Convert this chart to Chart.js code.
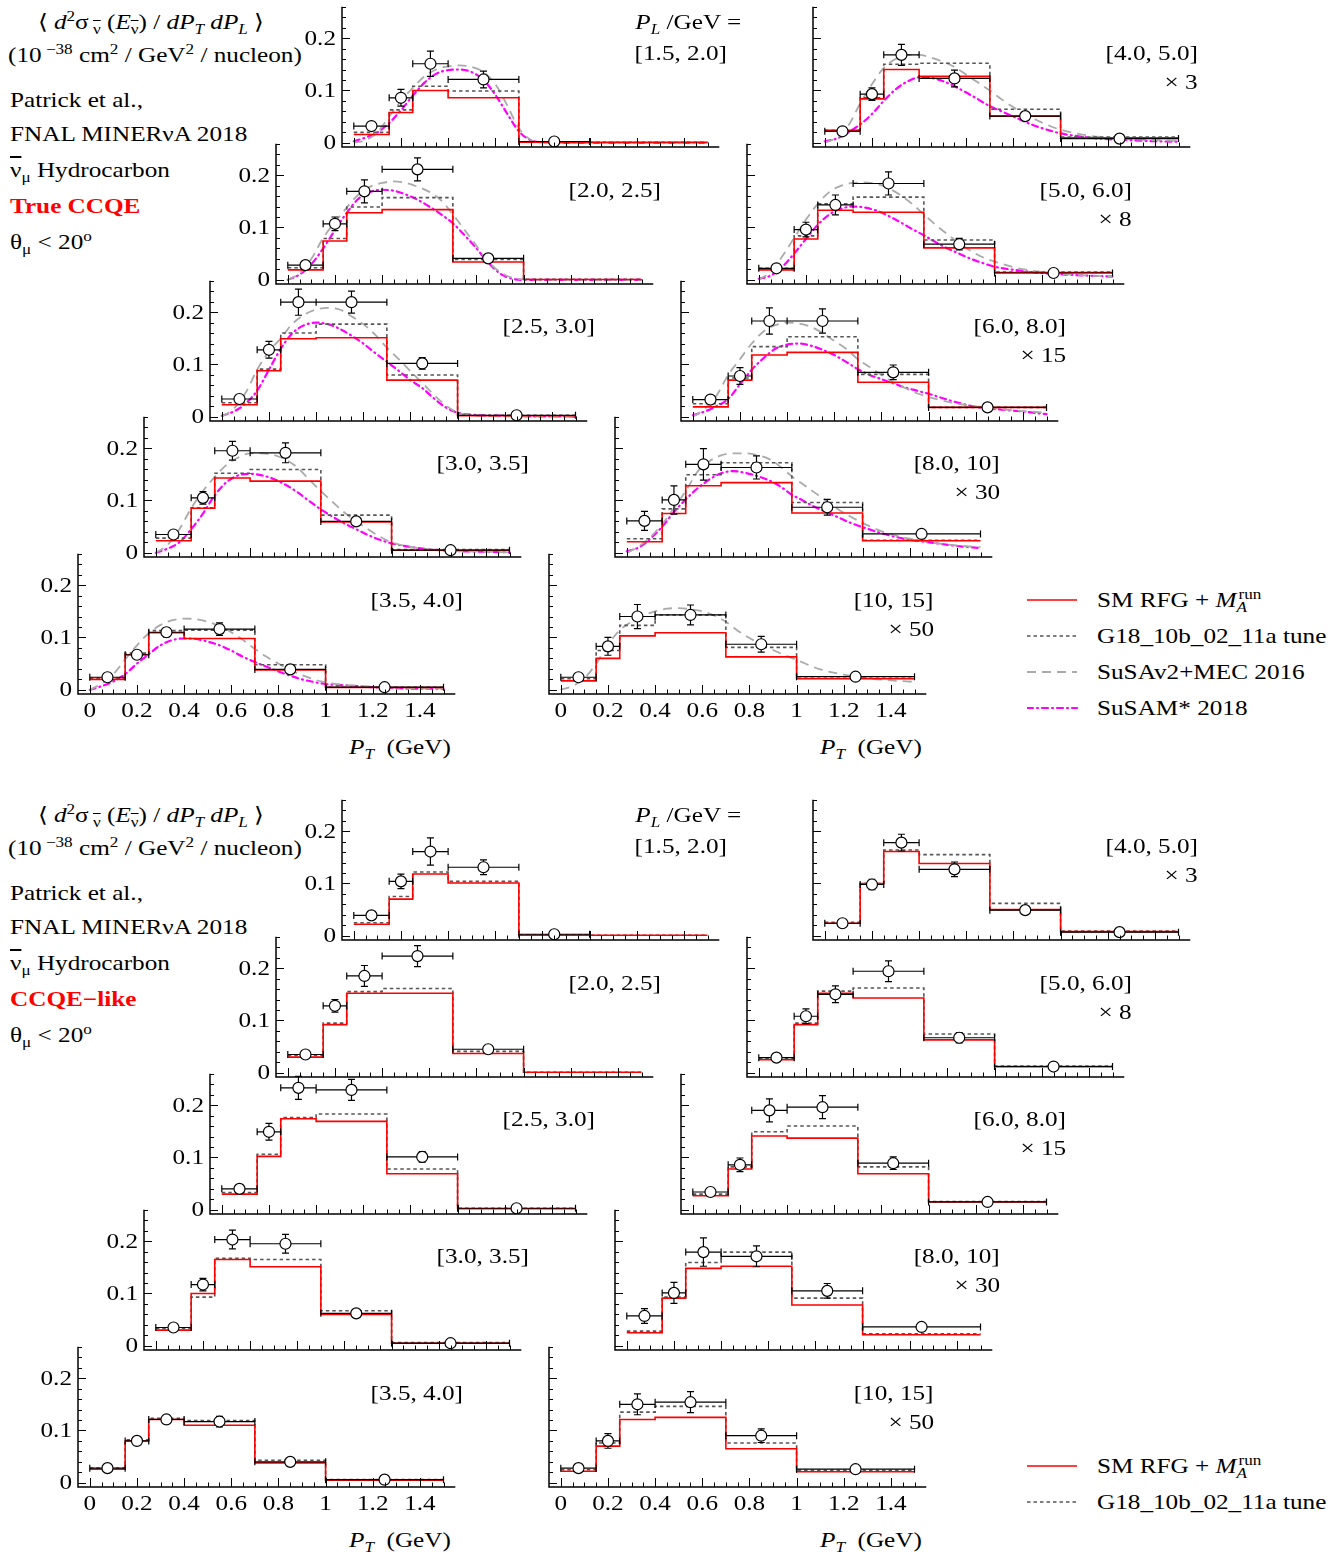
<!DOCTYPE html>
<html>
<head>
<meta charset="utf-8">
<script src="https://cdn.jsdelivr.net/npm/chart.js@4.4.1/dist/chart.umd.min.js"></script>
<style>
body{margin:0;background:#fff;width:1344px;height:1560px;position:relative;overflow:hidden;font-family:"Liberation Serif","Times New Roman",serif;}
canvas{position:absolute;}
.t{position:absolute;font-size:21px;line-height:22px;white-space:nowrap;color:#000;transform:scaleX(1.2);transform-origin:left center;}
.t.r{transform-origin:right center;text-align:right;}
sub,sup{font-size:68%;line-height:0;}
.ov{text-decoration:overline;}
svg{position:absolute;}
</style>
</head>
<body>
<script>
// P_T bins (GeV)
const binEdges = [0, 0.15, 0.25, 0.4, 0.7, 1.0, 1.5];
const binCenters = [0.075, 0.2, 0.325, 0.55, 0.85, 1.25];
const plLabels = ['[1.5, 2.0]', '[2.0, 2.5]', '[2.5, 3.0]', '[3.0, 3.5]', '[3.5, 4.0]',
                  '[4.0, 5.0]', '[5.0, 6.0]', '[6.0, 8.0]', '[8.0, 10]', '[10, 15]'];
const scaleLabels = ['', '', '', '', '', '\u00d7 3', '\u00d7 8', '\u00d7 15', '\u00d7 30', '\u00d7 50'];
const xTickValues = [0, 0.2, 0.4, 0.6, 0.8, 1, 1.2, 1.4];
const xTickLabels = ['0', '0.2', '0.4', '0.6', '0.8', '1', '1.2', '1.4'];
const yTickValues = [0, 0.1, 0.2];
const yTickLabels = ['0', '0.1', '0.2'];

// ---- True CCQE ----
const dataTrue = [
  [0.032, 0.086, 0.151, 0.121, 0.0025, null],
  [0.028, 0.107, 0.169, 0.211, 0.041, null],
  [0.034, 0.128, 0.219, 0.219, 0.102, 0.003],
  [0.035, 0.105, 0.195, 0.191, 0.060, 0.005],
  [0.024, 0.067, 0.110, 0.116, 0.039, 0.005],
  [0.022, 0.093, 0.168, 0.123, 0.051, 0.008],
  [0.022, 0.096, 0.143, 0.184, 0.068, 0.013],
  [0.033, 0.078, 0.183, 0.183, 0.085, 0.018],
  [0.061, 0.101, 0.169, 0.163, 0.087, 0.036],
  [0.024, 0.083, 0.140, 0.143, 0.087, 0.025]
];
const errTrue = [
  [0.004, 0.016, 0.024, 0.016, 0.002, null],
  [0.004, 0.013, 0.022, 0.022, 0.005, null],
  [0.005, 0.016, 0.025, 0.021, 0.011, 0.002],
  [0.005, 0.012, 0.018, 0.019, 0.006, 0.002],
  [0.004, 0.007, 0.009, 0.012, 0.005, 0.002],
  [0.004, 0.012, 0.020, 0.016, 0.006, 0.002],
  [0.004, 0.014, 0.019, 0.022, 0.011, 0.003],
  [0.006, 0.016, 0.025, 0.023, 0.014, 0.004],
  [0.018, 0.027, 0.030, 0.022, 0.015, 0.007],
  [0.005, 0.017, 0.023, 0.019, 0.015, 0.005]
];
const rfgTrue = [
  [0.016, 0.058, 0.100, 0.086, 0.001, 0.001],
  [0.019, 0.074, 0.128, 0.134, 0.034, 0.0005],
  [0.023, 0.088, 0.149, 0.151, 0.070, 0.002],
  [0.023, 0.085, 0.143, 0.137, 0.059, 0.005],
  [0.020, 0.067, 0.109, 0.098, 0.038, 0.0045],
  [0.024, 0.084, 0.140, 0.127, 0.051, 0.0095],
  [0.019, 0.078, 0.133, 0.129, 0.061, 0.014],
  [0.019, 0.070, 0.118, 0.123, 0.066, 0.018],
  [0.021, 0.075, 0.128, 0.134, 0.076, 0.023],
  [0.017, 0.060, 0.103, 0.109, 0.063, 0.021]
];
const g18True = [
  [0.020, 0.063, 0.108, 0.099, 0.002, 0.001],
  [0.023, 0.079, 0.139, 0.157, 0.039, 0.001],
  [0.027, 0.091, 0.160, 0.177, 0.080, 0.003],
  [0.028, 0.086, 0.152, 0.159, 0.072, 0.006],
  [0.022, 0.070, 0.113, 0.114, 0.048, 0.005],
  [0.024, 0.086, 0.150, 0.152, 0.064, 0.011],
  [0.022, 0.084, 0.145, 0.158, 0.076, 0.015],
  [0.025, 0.074, 0.134, 0.153, 0.081, 0.018],
  [0.027, 0.084, 0.149, 0.172, 0.096, 0.024],
  [0.021, 0.075, 0.123, 0.143, 0.081, 0.022]
];

// smooth model curves, sampled at curveX
const curveX = [0, 0.05, 0.1, 0.15, 0.2, 0.25, 0.3, 0.35, 0.4, 0.45, 0.5, 0.55, 0.6,
                0.65, 0.7, 0.75, 0.8, 0.85, 0.9, 0.95, 1.0, 1.1, 1.2, 1.3, 1.4, 1.5];
const susaTrue = [
  [0, 0.005, 0.02, 0.05, 0.08, 0.105, 0.127, 0.14, 0.146, 0.148, 0.145, 0.135, 0.112, 0.072, 0.028, 0.006, 0.001, 0, 0, 0, 0, 0, 0, 0, 0, 0],
  [0, 0.012, 0.04, 0.08, 0.11, 0.138, 0.163, 0.178, 0.185, 0.188, 0.185, 0.178, 0.168, 0.152, 0.125, 0.095, 0.065, 0.035, 0.015, 0.004, 0.001, 0, 0, 0, 0, 0],
  [0, 0.015, 0.045, 0.09, 0.125, 0.15, 0.178, 0.195, 0.205, 0.208, 0.205, 0.192, 0.177, 0.157, 0.132, 0.11, 0.087, 0.065, 0.042, 0.022, 0.008, 0.002, 0.001, 0.001, 0, 0],
  [0, 0.015, 0.045, 0.085, 0.118, 0.145, 0.168, 0.182, 0.19, 0.19, 0.187, 0.178, 0.163, 0.14, 0.118, 0.097, 0.077, 0.06, 0.045, 0.031, 0.02, 0.01, 0.005, 0.003, 0.002, 0.001],
  [0, 0.012, 0.03, 0.058, 0.085, 0.108, 0.124, 0.133, 0.136, 0.135, 0.13, 0.122, 0.11, 0.095, 0.078, 0.063, 0.05, 0.038, 0.028, 0.02, 0.014, 0.009, 0.006, 0.004, 0.003, 0.003],
  [0, 0.01, 0.033, 0.075, 0.112, 0.143, 0.16, 0.168, 0.168, 0.163, 0.155, 0.145, 0.13, 0.115, 0.1, 0.083, 0.068, 0.055, 0.043, 0.033, 0.025, 0.015, 0.01, 0.007, 0.005, 0.004],
  [0, 0.015, 0.045, 0.08, 0.115, 0.145, 0.168, 0.18, 0.185, 0.186, 0.183, 0.175, 0.162, 0.145, 0.125, 0.105, 0.087, 0.07, 0.055, 0.043, 0.035, 0.022, 0.015, 0.011, 0.008, 0.006],
  [0, 0.015, 0.04, 0.08, 0.11, 0.14, 0.163, 0.175, 0.18, 0.178, 0.172, 0.16, 0.145, 0.13, 0.11, 0.095, 0.08, 0.066, 0.055, 0.045, 0.038, 0.027, 0.02, 0.015, 0.011, 0.008],
  [0, 0.012, 0.03, 0.055, 0.085, 0.118, 0.155, 0.175, 0.186, 0.19, 0.19, 0.187, 0.18, 0.165, 0.146, 0.13, 0.114, 0.098, 0.082, 0.069, 0.057, 0.038, 0.027, 0.019, 0.014, 0.011],
  [0, 0.007, 0.022, 0.05, 0.086, 0.114, 0.13, 0.142, 0.15, 0.155, 0.156, 0.154, 0.15, 0.142, 0.13, 0.113, 0.099, 0.087, 0.076, 0.066, 0.057, 0.039, 0.029, 0.022, 0.018, 0.015]
];
const susamTrue = [
  [0.003, 0.01, 0.02, 0.038, 0.062, 0.09, 0.115, 0.132, 0.139, 0.14, 0.135, 0.12, 0.092, 0.056, 0.022, 0.005, 0.001, 0, 0, 0, 0, 0, 0, 0, 0, 0],
  [0, 0.01, 0.03, 0.06, 0.095, 0.128, 0.155, 0.168, 0.172, 0.17, 0.163, 0.153, 0.14, 0.125, 0.108, 0.085, 0.06, 0.033, 0.012, 0.002, 0, 0, 0, 0, 0, 0],
  [0.002, 0.01, 0.025, 0.05, 0.09, 0.13, 0.16, 0.175, 0.18, 0.177, 0.168, 0.155, 0.14, 0.122, 0.105, 0.088, 0.07, 0.055, 0.035, 0.018, 0.008, 0.003, 0.002, 0.001, 0.001, 0],
  [0, 0.008, 0.02, 0.045, 0.075, 0.11, 0.135, 0.148, 0.151, 0.148, 0.141, 0.13, 0.116, 0.099, 0.083, 0.069, 0.056, 0.045, 0.034, 0.025, 0.018, 0.01, 0.005, 0.003, 0.002, 0.001],
  [0, 0.007, 0.016, 0.03, 0.05, 0.068, 0.085, 0.095, 0.098, 0.097, 0.092, 0.085, 0.075, 0.063, 0.053, 0.044, 0.035, 0.027, 0.02, 0.015, 0.011, 0.008, 0.005, 0.003, 0.002, 0.002],
  [0.003, 0.008, 0.02, 0.035, 0.055, 0.08, 0.102, 0.117, 0.125, 0.124, 0.118, 0.108, 0.096, 0.083, 0.07, 0.06, 0.05, 0.04, 0.031, 0.024, 0.018, 0.011, 0.007, 0.005, 0.003, 0.002],
  [0.002, 0.008, 0.025, 0.05, 0.078, 0.105, 0.125, 0.136, 0.14, 0.138, 0.132, 0.122, 0.11, 0.097, 0.085, 0.072, 0.06, 0.05, 0.04, 0.032, 0.025, 0.018, 0.013, 0.01, 0.008, 0.006],
  [0.003, 0.01, 0.02, 0.034, 0.062, 0.09, 0.112, 0.13, 0.138, 0.14, 0.136, 0.128, 0.118, 0.105, 0.091, 0.08, 0.072, 0.064, 0.056, 0.05, 0.044, 0.03, 0.019, 0.014, 0.01, 0.005],
  [0.003, 0.01, 0.027, 0.05, 0.078, 0.102, 0.123, 0.14, 0.152, 0.156, 0.153, 0.147, 0.139, 0.127, 0.111, 0.099, 0.087, 0.077, 0.067, 0.057, 0.049, 0.035, 0.025, 0.019, 0.013, 0.009],
  null
];

// ---- CCQE-like ----
const dataLike = [
  [0.039, 0.104, 0.161, 0.131, 0.003, null],
  [0.035, 0.128, 0.185, 0.223, 0.045, null],
  [0.040, 0.149, 0.233, 0.229, 0.101, 0.003],
  [0.035, 0.117, 0.203, 0.195, 0.062, 0.005],
  [0.028, 0.080, 0.121, 0.117, 0.040, 0.006],
  [0.024, 0.098, 0.178, 0.127, 0.049, 0.007],
  [0.029, 0.108, 0.150, 0.194, 0.067, 0.012],
  [0.034, 0.086, 0.190, 0.196, 0.089, 0.015],
  [0.057, 0.101, 0.179, 0.171, 0.105, 0.036],
  [0.028, 0.080, 0.150, 0.154, 0.090, 0.026]
];
const errLike = [
  [0.004, 0.014, 0.026, 0.014, 0.002, null],
  [0.004, 0.012, 0.020, 0.020, 0.005, null],
  [0.005, 0.016, 0.022, 0.020, 0.010, 0.002],
  [0.004, 0.012, 0.018, 0.018, 0.006, 0.002],
  [0.003, 0.006, 0.008, 0.010, 0.004, 0.002],
  [0.003, 0.010, 0.016, 0.014, 0.006, 0.002],
  [0.004, 0.014, 0.016, 0.020, 0.010, 0.003],
  [0.005, 0.013, 0.022, 0.022, 0.012, 0.004],
  [0.014, 0.020, 0.027, 0.020, 0.014, 0.007],
  [0.004, 0.014, 0.020, 0.020, 0.013, 0.005]
];
const rfgLike = [
  [0.022, 0.070, 0.118, 0.101, 0.001, 0.001],
  [0.030, 0.092, 0.152, 0.152, 0.037, 0.001],
  [0.030, 0.102, 0.174, 0.169, 0.069, 0.002],
  [0.030, 0.100, 0.165, 0.151, 0.060, 0.005],
  [0.026, 0.080, 0.121, 0.110, 0.038, 0.005],
  [0.024, 0.100, 0.161, 0.138, 0.050, 0.008],
  [0.025, 0.092, 0.152, 0.143, 0.063, 0.012],
  [0.027, 0.078, 0.141, 0.137, 0.069, 0.015],
  [0.025, 0.091, 0.148, 0.152, 0.078, 0.021],
  [0.022, 0.070, 0.121, 0.125, 0.065, 0.021]
];
const g18Like = [
  [0.025, 0.075, 0.122, 0.104, 0.002, 0.001],
  [0.033, 0.095, 0.155, 0.161, 0.041, 0.001],
  [0.033, 0.106, 0.176, 0.183, 0.078, 0.003],
  [0.033, 0.093, 0.167, 0.165, 0.067, 0.006],
  [0.028, 0.082, 0.123, 0.119, 0.043, 0.006],
  [0.026, 0.100, 0.164, 0.155, 0.062, 0.009],
  [0.028, 0.095, 0.156, 0.162, 0.074, 0.013],
  [0.030, 0.082, 0.149, 0.160, 0.082, 0.016],
  [0.028, 0.093, 0.159, 0.179, 0.091, 0.023],
  [0.025, 0.076, 0.135, 0.146, 0.076, 0.024]
];

const figures = [
  {label: 'True CCQE', data: dataTrue, err: errTrue, rfg: rfgTrue, g18: g18True, susa: susaTrue, susam: susamTrue},
  {label: 'CCQE\u2212like', data: dataLike, err: errLike, rfg: rfgLike, g18: g18Like, susa: null, susam: null}
];

const PAD = {left: 48, right: 6, top: 6, bottom: 32};
const AREA_W = 378, AREA_H = 141;
const FIG_DY = 793;

function txt(html, x, cy, right) {
  const d = document.createElement('div');
  d.className = right ? 't r' : 't';
  d.innerHTML = html;
  d.style.top = (cy - 11) + 'px';
  if (right) d.style.right = (1344 - x) + 'px'; else d.style.left = x + 'px';
  document.body.appendChild(d);
  return d;
}

function stepPts(vals) {
  const pts = vals.map((v, i) => ({x: binEdges[i], y: v}));
  pts.push({x: binEdges[binEdges.length - 1], y: vals[vals.length - 1]});
  return pts;
}

function scaledText(ctx, s, x, y, align) {
  ctx.save();
  ctx.translate(x, y);
  ctx.scale(1.2, 1);
  ctx.textAlign = align;
  ctx.fillText(s, 0, 0);
  ctx.restore();
}

const axesPlugin = {
  id: 'axes',
  afterDatasetsDraw(chart) {
    const {ctx, chartArea: a, scales: {x, y}} = chart;
    const o = chart.options.plugins.axes;
    ctx.save();
    ctx.strokeStyle = '#000';
    ctx.lineWidth = 1.5;
    ctx.beginPath();
    ctx.moveTo(a.left, a.top);
    ctx.lineTo(a.left, a.bottom);
    ctx.lineTo(a.right, a.bottom);
    ctx.stroke();
    ctx.lineWidth = 1;
    ctx.beginPath();
    for (let i = 0; i <= 30; i++) {
      const px = Math.round(x.getPixelForValue(i * 0.05)) + 0.5;
      ctx.moveTo(px, a.bottom);
      ctx.lineTo(px, a.bottom - (i % 4 === 0 ? 9 : 4.5));
    }
    for (let i = 0; i <= 13; i++) {
      const py = Math.round(y.getPixelForValue(i * 0.02)) + 0.5;
      ctx.moveTo(a.left, py);
      ctx.lineTo(a.left + (i % 5 === 0 ? 8 : 4), py);
    }
    ctx.stroke();
    ctx.fillStyle = '#000';
    ctx.font = '21px "Liberation Serif"';
    ctx.textBaseline = 'middle';
    if (o.yLabels) {
      yTickValues.forEach((v, i) => scaledText(ctx, yTickLabels[i], a.left - 6, y.getPixelForValue(v) + 1, 'right'));
    }
    if (o.xLabels) {
      xTickValues.forEach((v, i) => scaledText(ctx, xTickLabels[i], x.getPixelForValue(v), a.bottom + 17, 'center'));
    }
    ctx.restore();
  }
};

const errPlugin = {
  id: 'errbars',
  beforeDatasetDraw(chart, args) {
    if (args.index !== 0) return;
    const {ctx, scales: {x, y}} = chart;
    const ds = chart.data.datasets[0];
    ctx.save();
    ctx.strokeStyle = '#000';
    ctx.lineWidth = 1.2;
    ctx.beginPath();
    ds.data.forEach(p => {
      const x1 = x.getPixelForValue(binEdges[p.bin]), x2 = x.getPixelForValue(binEdges[p.bin + 1]);
      const yc = y.getPixelForValue(p.y), xc = x.getPixelForValue(p.x);
      const yt = y.getPixelForValue(p.y + p.e), yb = y.getPixelForValue(p.y - p.e);
      ctx.moveTo(x1, yc); ctx.lineTo(x2, yc);
      ctx.moveTo(x1, yc - 3.5); ctx.lineTo(x1, yc + 3.5);
      ctx.moveTo(x2, yc - 3.5); ctx.lineTo(x2, yc + 3.5);
      ctx.moveTo(xc, yt); ctx.lineTo(xc, yb);
      ctx.moveTo(xc - 3.5, yt); ctx.lineTo(xc + 3.5, yt);
      ctx.moveTo(xc - 3.5, yb); ctx.lineTo(xc + 3.5, yb);
    });
    ctx.stroke();
    ctx.restore();
  }
};

function makePanel(fig, k) {
  const F = figures[fig];
  const col = Math.floor(k / 5), row = k % 5;
  const zeroY = 142.7 + 136.8 * row + FIG_DY * fig;
  const x0 = 353.4 - 66 * row + 471 * col;
  const areaLeft = x0 - 0.05 * AREA_W / 1.6;
  const areaTop = zeroY - 0.26 * AREA_H / 0.268;
  const cv = document.createElement('canvas');
  cv.width = AREA_W + PAD.left + PAD.right;
  cv.height = AREA_H + PAD.top + PAD.bottom;
  cv.style.left = Math.round(areaLeft - PAD.left) + 'px';
  cv.style.top = Math.round(areaTop - PAD.top) + 'px';
  document.body.appendChild(cv);

  const pts = [];
  F.data[k].forEach((v, i) => { if (v !== null) pts.push({x: binCenters[i], y: v, e: F.err[k][i], bin: i}); });

  const datasets = [
    {type: 'scatter', data: pts, pointRadius: 5.5, pointBackgroundColor: '#fff', pointBorderColor: '#000', pointBorderWidth: 1.2},
    {type: 'line', data: stepPts(F.rfg[k]), stepped: 'before', borderColor: '#ff0000', borderWidth: 1.6, pointRadius: 0, fill: false},
    {type: 'line', data: stepPts(F.g18[k]), stepped: 'before', borderColor: '#555', borderDash: [3.5, 3], borderWidth: 1.6, pointRadius: 0, fill: false}
  ];
  if (F.susa && F.susa[k]) {
    datasets.push({type: 'line', data: curveX.map((xv, i) => ({x: xv, y: F.susa[k][i]})), borderColor: '#aaaaaa', borderDash: [9, 6],
      borderWidth: 1.8, pointRadius: 0, cubicInterpolationMode: 'monotone', fill: false});
  }
  if (F.susam && F.susam[k]) {
    datasets.push({type: 'line', data: curveX.map((xv, i) => ({x: xv, y: F.susam[k][i]})), borderColor: '#ff00ff', borderDash: [6, 4, 1, 4],
      borderCapStyle: 'round', borderWidth: 2.2, pointRadius: 0, cubicInterpolationMode: 'monotone', fill: false});
  }

  new Chart(cv, {
    type: 'scatter',
    data: {datasets: datasets},
    options: {
      responsive: false, animation: false, events: [],
      layout: {padding: PAD},
      plugins: {legend: {display: false}, tooltip: {enabled: false}, axes: {xLabels: row === 4, yLabels: col === 0}},
      scales: {
        x: {type: 'linear', min: -0.05, max: 1.55, display: false},
        y: {type: 'linear', min: -0.008, max: 0.26, display: false}
      }
    },
    plugins: [axesPlugin, errPlugin]
  });

  const rightX = areaLeft + AREA_W + 7;
  txt(plLabels[k], rightX, zeroY - 90, true);
  if (scaleLabels[k]) txt(scaleLabels[k], rightX, zeroY - 61, true);
  if (k === 0) txt('<i>P<sub>L</sub></i> /GeV =', rightX + 15, zeroY - 121, true);
  if (row === 4) txt('<i>P<sub>T</sub></i>&nbsp;&nbsp;(GeV)', x0 + 260, zeroY + 57, false);
}

function legendLine(x, y, style) {
  const s = document.createElementNS('http://www.w3.org/2000/svg', 'svg');
  s.setAttribute('width', 52); s.setAttribute('height', 8);
  s.style.left = x + 'px'; s.style.top = (y - 4) + 'px';
  s.innerHTML = '<line x1="0" y1="4" x2="50" y2="4" ' + style + '/>';
  document.body.appendChild(s);
}

figures.forEach((F, fig) => {
  const dy = FIG_DY * fig;
  txt('\u27e8 <i>d</i><sup>2</sup>\u03c3<sub> <span class="ov">\u03bd</span></sub> (<i>E</i><sub><span class="ov">\u03bd</span></sub>) / <i>dP<sub>T</sub> dP<sub>L</sub></i> \u27e9', 38, 22 + dy);
  txt('(10<sup> \u221238</sup> cm<sup>2</sup> / GeV<sup>2</sup> / nucleon)', 8, 55 + dy);
  txt('Patrick et al.,', 10, 100 + dy);
  txt('FNAL MINER\u03bdA 2018', 10, 134 + dy);
  txt('<span class="ov">\u03bd</span><sub>\u03bc</sub> Hydrocarbon', 10, 170 + dy);
  txt('<b style="color:#ff0000">' + F.label + '</b>', 10, 206 + dy);
  txt('\u03b8<sub>\u03bc</sub> &lt; 20<sup>o</sup>', 10, 242 + dy);
  for (let k = 0; k < 10; k++) makePanel(fig, k);
});

// legends
const legY1 = [600, 636, 672, 708];
legendLine(1027, legY1[0], 'stroke="#ff0000" stroke-width="1.6"');
legendLine(1027, legY1[1], 'stroke="#555" stroke-width="1.6" stroke-dasharray="3.5 3"');
legendLine(1027, legY1[2], 'stroke="#aaa" stroke-width="1.8" stroke-dasharray="9 6"');
legendLine(1027, legY1[3], 'stroke="#ff00ff" stroke-width="2.2" stroke-linecap="round" stroke-dasharray="6 4 1 4"');
const rfgName = 'SM RFG + <i>M</i><sub><i>A</i></sub><sup style="position:relative;left:-0.5em">run</sup>';
txt(rfgName, 1097, legY1[0]);
txt('G18_10b_02_11a tune', 1097, legY1[1]);
txt('SuSAv2+MEC 2016', 1097, legY1[2]);
txt('SuSAM* 2018', 1097, legY1[3]);
const legY2 = [1466, 1502];
legendLine(1027, legY2[0], 'stroke="#ff0000" stroke-width="1.6"');
legendLine(1027, legY2[1], 'stroke="#555" stroke-width="1.6" stroke-dasharray="3.5 3"');
txt(rfgName, 1097, legY2[0]);
txt('G18_10b_02_11a tune', 1097, legY2[1]);
</script>
</body>
</html>
